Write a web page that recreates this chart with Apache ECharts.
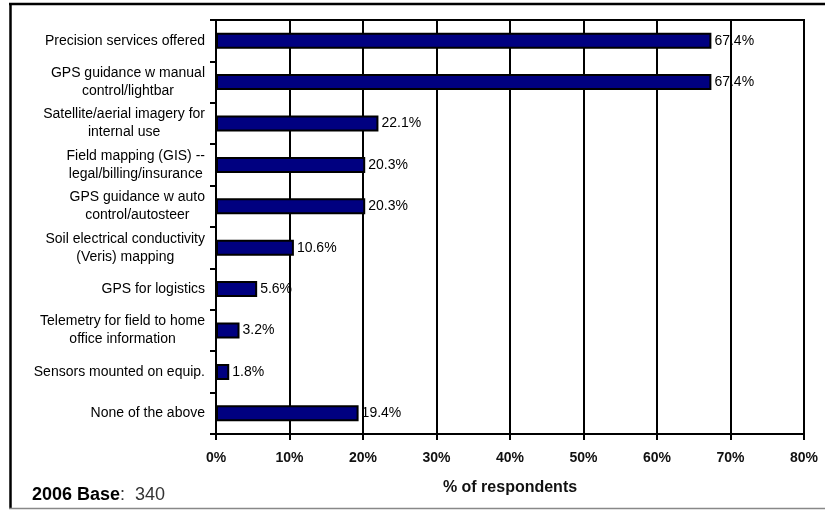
<!DOCTYPE html>
<html>
<head>
<meta charset="utf-8">
<script src="https://cdn.jsdelivr.net/npm/echarts@6/dist/echarts.min.js"></script>
<style>
html,body{margin:0;padding:0;background:#fff;}
#chart{width:825px;height:512px;}
</style>
</head>
<body>
<div id="chart"></div>
<script>
var categories = [
  "Precision services offered",
  "GPS guidance w manual\ncontrol/lightbar",
  "Satellite/aerial imagery for\ninternal use",
  "Field mapping (GIS) --\nlegal/billing/insurance",
  "GPS guidance w auto\ncontrol/autosteer",
  "Soil electrical conductivity\n(Veris) mapping",
  "GPS for logistics",
  "Telemetry for field to home\noffice information",
  "Sensors mounted on equip.",
  "None of the above"
];
var values = [67.4, 67.4, 22.1, 20.3, 20.3, 10.6, 5.6, 3.2, 1.8, 19.4];
var xTicks = {min: 0, max: 80, step: 10};
var axisTitle = "% of respondents";
var baseLabel = "2006 Base";
var baseValue = "340";

var FONT = '"Liberation Sans", Arial, sans-serif';
var chart = echarts.init(document.getElementById('chart'), null, {renderer: 'canvas'});
chart.setOption({
  backgroundColor: '#fff',
  animation: false,
  textStyle: {fontFamily: FONT},
  grid: {left: 216, right: 21, top: 20, bottom: 78, show: true, borderColor: '#000', borderWidth: 2, backgroundColor: 'transparent'},
  xAxis: {
    type: 'value', min: xTicks.min, max: xTicks.max, interval: xTicks.step,
    name: axisTitle, nameLocation: 'middle', nameGap: 46,
    nameTextStyle: {fontFamily: FONT, fontSize: 16, fontWeight: 'bold', color: '#111'},
    axisLine: {show: true, lineStyle: {color: '#000', width: 2}},
    axisTick: {show: true, length: 6, lineStyle: {color: '#000', width: 2}},
    axisLabel: {formatter: '{value}%', margin: 17, fontFamily: FONT, fontSize: 14, fontWeight: 'bold', color: '#111'},
    splitLine: {show: true, lineStyle: {color: '#000', width: 2}}
  },
  yAxis: {
    type: 'category', data: categories, inverse: true,
    axisLine: {show: true, lineStyle: {color: '#000', width: 2}},
    axisTick: {show: true, length: 6, lineStyle: {color: '#000', width: 2}},
    axisLabel: {
      margin: 11, color: '#000', fontFamily: FONT, fontSize: 14,
      formatter: function (v) {
        return v.split('\n').map(function (s) { return '{a|' + s + '}'; }).join('\n');
      },
      rich: {a: {align: 'center', fontFamily: FONT, fontSize: 14, lineHeight: 18, color: '#000'}}
    },
    splitLine: {show: false}
  },
  series: [{
    type: 'bar', data: values, barWidth: 16,
    itemStyle: {color: '#000080', borderColor: '#000', borderWidth: 2},
    label: {show: true, position: 'right', distance: 3, fontFamily: FONT, fontSize: 14, color: '#000',
      formatter: function (p) { return p.value.toFixed(1) + '%'; }}
  }],
  graphic: [
    {type: 'line', shape: {x1: 9, y1: 4, x2: 825, y2: 4}, style: {stroke: '#000', lineWidth: 2.5}},
    {type: 'line', shape: {x1: 10.5, y1: 3, x2: 10.5, y2: 509}, style: {stroke: '#000', lineWidth: 2.5}},
    {type: 'line', shape: {x1: 9, y1: 508.5, x2: 825, y2: 508.5}, style: {stroke: '#888', lineWidth: 1.5}},
    {type: 'text', left: 32, top: 486, style: {
      text: '{b|' + baseLabel + '}{r|:  ' + baseValue + '}',
      rich: {b: {fontFamily: FONT, fontSize: 18, fontWeight: 'bold', fill: '#000'},
             r: {fontFamily: FONT, fontSize: 18, fill: '#333'}}
    }}
  ]
});
</script>
</body>
</html>
